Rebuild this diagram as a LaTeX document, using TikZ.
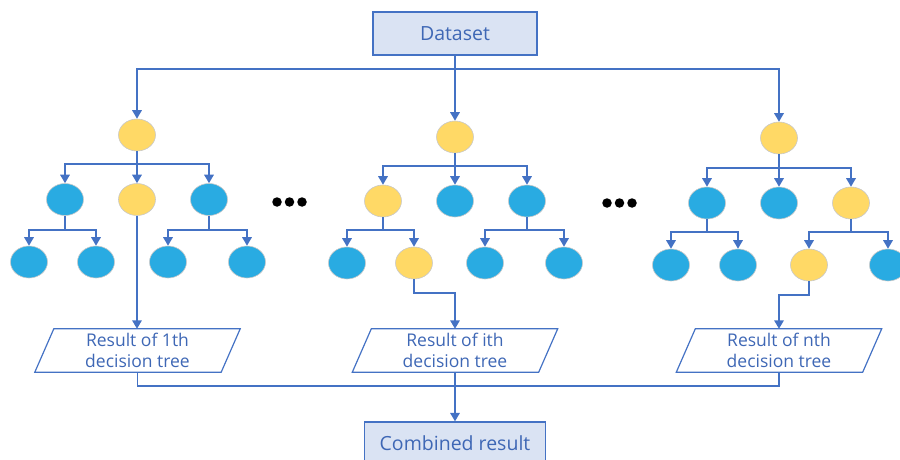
\documentclass[tikz,border=0pt]{standalone}
\usepackage{fontspec}
\setmainfont{Open Sans}
\usetikzlibrary{shapes.geometric,arrows.meta,calc}
\definecolor{ln}{HTML}{4472C4}
\definecolor{boxfill}{HTML}{DAE3F3}
\definecolor{txt}{HTML}{3E67B5}
\definecolor{yel}{HTML}{FFD966}
\definecolor{blu}{HTML}{29ABE2}
\definecolor{edgegray}{HTML}{C8C8C8}
\newcommand\drawpara[1]{\draw[draw=ln, line width=1.2pt] ($(#1.north west)+(9.5,0)$) -- ($(#1.north east)+(9.5,0)$) -- ($(#1.south east)+(-9.5,0)$) -- ($(#1.south west)+(-9.5,0)$) -- cycle;}
\begin{document}
\begin{tikzpicture}[x=1pt,y=-1pt,
 every node/.style={inner sep=0},
 box/.style={draw=ln, line width=1.3pt, fill=boxfill, minimum width=164pt, minimum height=43pt, text=txt, font=\fontsize{19.5}{21}\selectfont},
 yn/.style={ellipse, fill=yel, draw=edgegray, line width=0.6pt, minimum width=37pt, minimum height=32pt},
 bn/.style={yn, fill=blu},
 res/.style={minimum width=186pt, minimum height=43pt, align=center, text=txt, font=\fontsize{17.5}{21}\selectfont},
 conn/.style={draw=ln, line width=1.7pt},
 arr/.style={conn, -{Triangle[width=9.5pt,length=8.5pt]}},
 dot/.style={circle, fill=black, minimum size=9.5pt}
]
\useasboundingbox (0,0) rectangle (900,460);

% boxes
\node[box] (ds) at (455,33.5) {Dataset};
\node[box, minimum width=181pt] (cr) at (455,443.5) {Combined result};

% tree 1
\node[yn] (t1r) at (137,135) {};
\node[bn] (t1a) at (65,199.5) {};
\node[yn] (t1b) at (137,199.5) {};
\node[bn] (t1c) at (209,199.5) {};
\node[bn] (t1d) at (29,262) {};
\node[bn] (t1e) at (96,262) {};
\node[bn] (t1f) at (168,262) {};
\node[bn] (t1g) at (247,262) {};

% tree 2
\node[yn] (t2r) at (455,137) {};
\node[yn] (t2a) at (383,201) {};
\node[bn] (t2b) at (455,201) {};
\node[bn] (t2c) at (527,201) {};
\node[bn] (t2d) at (347,263) {};
\node[yn] (t2e) at (414,263) {};
\node[bn] (t2f) at (485,263) {};
\node[bn] (t2g) at (564,263) {};

% tree 3
\node[yn] (t3r) at (779,138) {};
\node[bn] (t3a) at (707,203) {};
\node[bn] (t3b) at (779,203) {};
\node[yn] (t3c) at (851,203) {};
\node[bn] (t3d) at (671,265) {};
\node[bn] (t3e) at (738,265) {};
\node[yn] (t3f) at (809,265) {};
\node[bn] (t3g) at (888,265) {};

% dots
\node[dot] (d1) at (277,202) {};
\node[dot] (d2) at (289.5,202) {};
\node[dot] (d3) at (302,202) {};
\node[dot] (d4) at (607,203) {};
\node[dot] (d5) at (619.5,203) {};
\node[dot] (d6) at (632,203) {};

% results
\node[res] (r1) at (137.5,350.5) {Result of 1th\\decision tree};
\node[res] (r2) at (455,350.5) {Result of ith\\decision tree};
\node[res] (r3) at (779,350.5) {Result of nth\\decision tree};
\drawpara{r1}
\drawpara{r2}
\drawpara{r3}

% dataset to roots
\coordinate (j0) at (455,69);
\draw[conn] (ds.south) -- (j0);
\draw[arr] (j0) -- (t2r.north);
\draw[arr] (j0) -| (t1r.north);
\draw[arr] (j0) -| (t3r.north);

% tree 1 edges
\foreach \c in {t1a,t1b,t1c} \draw[arr] (t1r.south) -- ++(0,13) -| (\c.north);
\foreach \c in {t1d,t1e} \draw[arr] (t1a.south) -- ++(0,14) -| (\c.north);
\foreach \c in {t1f,t1g} \draw[arr] (t1c.south) -- ++(0,14) -| (\c.north);
% tree 2 edges
\foreach \c in {t2a,t2b,t2c} \draw[arr] (t2r.south) -- ++(0,13) -| (\c.north);
\foreach \c in {t2d,t2e} \draw[arr] (t2a.south) -- ++(0,13) -| (\c.north);
\foreach \c in {t2f,t2g} \draw[arr] (t2c.south) -- ++(0,13) -| (\c.north);
% tree 3 edges
\foreach \c in {t3a,t3b,t3c} \draw[arr] (t3r.south) -- ++(0,14) -| (\c.north);
\foreach \c in {t3d,t3e} \draw[arr] (t3a.south) -- ++(0,13) -| (\c.north);
\foreach \c in {t3f,t3g} \draw[arr] (t3c.south) -- ++(0,13) -| (\c.north);

% leaves to results
\draw[arr] (t1b.south) -- (r1.north -| t1b.south);
\draw[arr] (t2e.south) -- ++(0,14) -| (r2.north);
\draw[arr] (t3f.south) -- ++(0,14) -| (r3.north);

% results to combined
\coordinate (j1) at (455,386);
\draw[conn] (r1.south) |- (j1);
\draw[conn] (r3.south) |- (j1);
\draw[conn] (r2.south) -- (j1);
\draw[arr] (j1) -- (cr.north);
\end{tikzpicture}
\end{document}
